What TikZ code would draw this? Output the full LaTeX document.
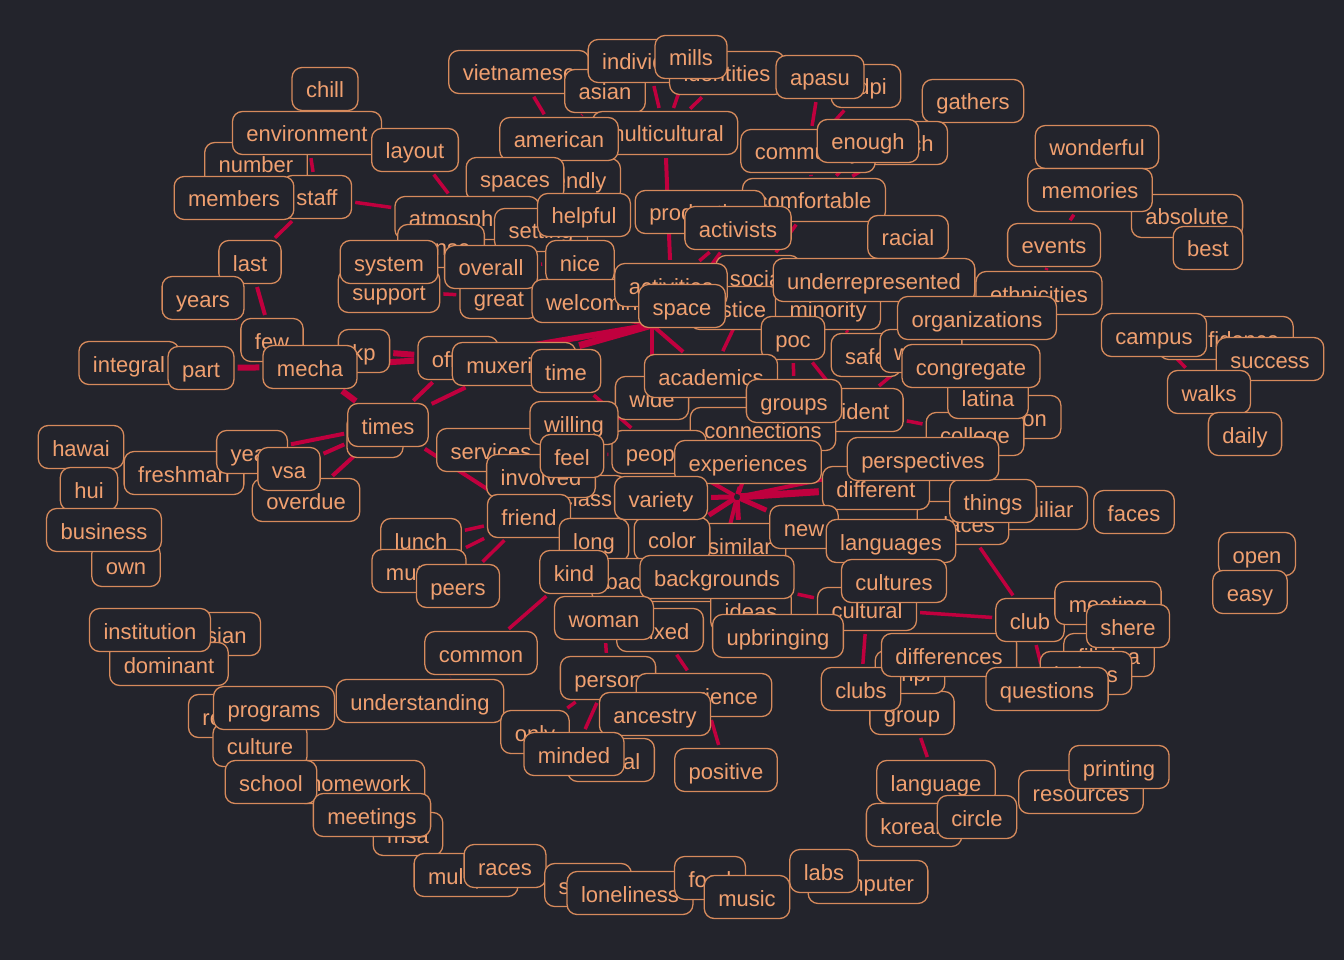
\documentclass[tikz,border=0pt]{standalone}
\usepackage{fontspec}
\setmainfont{Liberation Sans}
\pgfdeclarelayer{bgl}
\pgfdeclarelayer{edgel}
\pgfsetlayers{bgl,edgel,main}
\definecolor{bgc}{RGB}{35,36,44}
\definecolor{brd}{RGB}{214,138,92}
\definecolor{txt}{RGB}{240,160,112}
\definecolor{edg}{RGB}{192,0,62}
\tikzset{
 w/.style={draw=brd, fill=bgc, text=txt, rounded corners=10pt, line width=1.3pt,
   font=\fontsize{22}{26}\selectfont, inner xsep=14pt, inner ysep=0pt,
   minimum height=43pt, text height=20pt, text depth=2pt},
 lk/.style={draw=edg, line width=#1, shorten <=3pt, shorten >=3pt},
 lk/.default=3.5pt
}
\begin{document}
\begin{tikzpicture}[x=1pt,y=-1pt]
\begin{pgfonlayer}{bgl}
\fill[bgc] (0,0) rectangle (1344,960);
\end{pgfonlayer}
\useasboundingbox (0,0) rectangle (1344,960);
% ---- nodes, bottom to top ----
\node[w] (number) at (256,164) {number};
\node[w] (environment) at (307,133) {environment};
\node[w] (chill) at (325,89) {chill};
\node[w] (staff) at (317,197) {staff};
\node[w] (members) at (234,198) {members};
\node[w] (layout) at (415,150) {layout};
\node[w] (last) at (250,262) {last};
\node[w] (years) at (203,298) {years};
\node[w] (few) at (272,340) {few};
\node[w] (integral) at (129,363) {integral};
\node[w] (part) at (201,368) {part};
\node[w] (kp) at (364,351) {kp};
\node[w] (mecha) at (310,367) {mecha};
\node[w] (office) at (458,358) {office};
\node[w] (muxerista) at (514,364) {muxerista};
\node[w] (time) at (566,371) {time};
\node[w] (we) at (375,436) {we};
\node[w] (times) at (388,425) {times};
\node[w] (hawai) at (81,447) {hawai};
\node[w] (hui) at (89,489) {hui};
\node[w] (freshman) at (184,473) {freshman};
\node[w] (year) at (252,452) {year};
\node[w] (overdue) at (306,500) {overdue};
\node[w] (vsa) at (289,469) {vsa};
\node[w] (own) at (126,565) {own};
\node[w] (business) at (104,530) {business};
\node[w] (caucasian) at (197,634) {caucasian};
\node[w] (dominant) at (169,664) {dominant};
\node[w] (institution) at (150,630) {institution};
\node[w] (relate) at (230,716) {relate};
\node[w] (culture) at (260,745) {culture};
\node[w] (programs) at (274,708) {programs};
\node[w] (homework) at (360,782) {homework};
\node[w] (school) at (271,782) {school};
\node[w] (msa) at (408,834) {msa};
\node[w] (meetings) at (372,815) {meetings};
\node[w] (multiple) at (466,875) {multiple};
\node[w] (races) at (505,866) {races};
\node[w] (stress) at (588,885) {stress};
\node[w] (loneliness) at (630,893) {loneliness};
\node[w] (food) at (710,878) {food};
\node[w] (music) at (747,897) {music};
\node[w] (computer) at (868,882) {computer};
\node[w] (labs) at (824,871) {labs};
\node[w] (language) at (936,782) {language};
\node[w] (korean) at (914,825) {korean};
\node[w] (circle) at (977,817) {circle};
\node[w] (resources) at (1081,792) {resources};
\node[w] (printing) at (1119,767) {printing};
\node[w] (group) at (912,713) {group};
\node[w] (nhpi) at (910,672) {nhpi};
\node[w] (clubs) at (861,689) {clubs};
\node[w] (differences) at (949,655) {differences};
\node[w] (filipina) at (1109,655) {filipina};
\node[w] (latinas) at (1086,673) {latinas};
\node[w] (questions) at (1047,689) {questions};
\node[w] (club) at (1030,620) {club};
\node[w] (meeting) at (1108,603) {meeting};
\node[w] (shere) at (1128,626) {shere};
\node[w] (faces) at (1134,512) {faces};
\node[w] (familiar) at (1038,508) {familiar};
\node[w] (places) at (963,523) {places};
\node[w] (things) at (993,501) {things};
\node[w] (open) at (1257,554) {open};
\node[w] (easy) at (1250,592) {easy};
\node[w] (confidence) at (1226,338) {confidence};
\node[w] (success) at (1270,359) {success};
\node[w] (campus) at (1154,335) {campus};
\node[w] (walks) at (1209,392) {walks};
\node[w] (daily) at (1245,434) {daily};
\node[w] (wonderful) at (1097,147) {wonderful};
\node[w] (absolute) at (1187,216) {absolute};
\node[w] (best) at (1208,248) {best};
\node[w] (memories) at (1090,190) {memories};
\node[w] (events) at (1054,245) {events};
\node[w] (ethnicities) at (1039,293) {ethnicities};
\node[w] (gathers) at (973,101) {gathers};
\node[w] (vietnamese) at (519,72) {vietnamese};
\node[w] (asian) at (605,91) {asian};
\node[w] (individual) at (648,61) {individual};
\node[w] (identities) at (727,73) {identities};
\node[w] (mills) at (691,57) {mills};
\node[w] (adpi) at (866,86) {adpi};
\node[w] (apasu) at (820,77) {apasu};
\node[w] (reach) at (906,143) {reach};
\node[w] (community) at (808,151) {community};
\node[w] (enough) at (868,141) {enough};
\node[w] (friendly) at (571,180) {friendly};
\node[w] (multicultural) at (665,133) {multicultural};
\node[w] (american) at (559,139) {american};
\node[w] (spaces) at (515,179) {spaces};
\node[w] (comfortable) at (814,200) {comfortable};
\node[w] (productive) at (700,212) {productive};
\node[w] (activists) at (738,228) {activists};
\node[w] (racial) at (908,237) {racial};
\node[w] (atmosphere) at (467,218) {atmosphere};
\node[w] (setting) at (541,230) {setting};
\node[w] (helpful) at (584,215) {helpful};
\node[w] (place) at (441,246) {sense};
\node[w] (support) at (389,291) {support};
\node[w] (system) at (389,262) {system};
\node[w] (great) at (499,297) {great};
\node[w] (overall) at (491,267) {overall};
\node[w] (nice) at (580,262) {nice};
\node[w] (social) at (758,277) {social};
\node[w] (justice) at (735,308) {justice};
\node[w] (minority) at (828,308) {minority};
\node[w] (underrepresented) at (874,280) {underrepresented};
\node[w] (safe) at (866,355) {safe};
\node[w] (warm) at (921,351) {warm};
\node[w] (organizations) at (977,318) {organizations};
\node[w] (welcoming) at (598,301) {welcoming};
\node[w] (activities) at (671,285) {activities};
\node[w] (space) at (682,306) {space};
\node[w] (poc) at (793,338) {poc};
\node[w] (location) at (1009,417) {location};
\node[w] (college) at (975,434) {college};
\node[w] (latina) at (988,397) {latina};
\node[w] (congregate) at (971,366) {congregate};
\node[w] (wide) at (652,398) {wide};
\node[w] (academics) at (711,376) {academics};
\node[w] (resident) at (850,410) {resident};
\node[w] (connections) at (763,429) {connections};
\node[w] (groups) at (794,401) {groups};
\node[w] (people) at (659,452) {people};
\node[w] (experiences) at (748,462) {experiences};
\node[w] (services) at (491,450) {services};
\node[w] (willing) at (574,423) {willing};
\node[w] (class) at (587,497) {class};
\node[w] (involved) at (541,476) {involved};
\node[w] (feel) at (572,456) {feel};
\node[w] (friend) at (529,516) {friend};
\node[w] (lunch) at (421,540) {lunch};
\node[w] (mutual) at (419,571) {mutual};
\node[w] (peers) at (458,586) {peers};
\node[w] (long) at (594,540) {long};
\node[w] (similar) at (740,545) {similar};
\node[w] (color) at (672,539) {color};
\node[w] (variety) at (661,498) {variety};
\node[w] (background) at (663,580) {background};
\node[w] (kind) at (574,572) {kind};
\node[w] (ideas) at (751,610) {ideas};
\node[w] (backgrounds) at (717,577) {backgrounds};
\node[w] (mixed) at (660,630) {mixed};
\node[w] (woman) at (604,618) {woman};
\node[w] (cultural) at (867,609) {cultural};
\node[w] (upbringing) at (778,636) {upbringing};
\node[w] (different) at (876,488) {different};
\node[w] (perspectives) at (923,459) {perspectives};
\node[w] (new) at (804,527) {new};
\node[w] (languages) at (891,541) {languages};
\node[w] (cultures) at (894,581) {cultures};
\node[w] (common) at (481,653) {common};
\node[w] (understanding) at (420,701) {understanding};
\node[w] (person) at (608,678) {person};
\node[w] (experience) at (704,695) {experience};
\node[w] (ancestry) at (655,714) {ancestry};
\node[w] (only) at (535,732) {only};
\node[w] (liberal) at (611,760) {liberal};
\node[w] (minded) at (574,754) {minded};
\node[w] (positive) at (726,770) {positive};
\coordinate (H) at (737,497);
\coordinate (H2) at (652,325);
% ---- connectors ----
\begin{pgfonlayer}{edgel}
\draw[lk] (environment) -- (staff);
\draw[lk] (staff) -- (last);
\draw[lk=4pt] (last) -- (few);
\draw[lk] (years) -- (few);
\draw[lk] (staff) -- (atmosphere);
\draw[lk] (layout) -- (atmosphere);
\draw[lk=6pt] (part) -- (mecha);
\draw[lk=6pt] (kp) -- (office);
\draw[lk=6pt] (mecha) -- (office);
\draw[lk=6pt] (mecha) -- (times);
\draw[lk=4pt] (year) -- (times);
\draw[lk=4pt] (vsa) -- (times);
\draw[lk=4pt] (overdue) -- (times);
\draw[lk=4pt] (times) -- (office);
\draw[lk=4pt] (times) -- (muxerista);
\draw[lk=4pt] (times) -- (friend);
\draw[lk=6pt] (office) -- (H2);
\draw[lk=7pt] (muxerista) -- (H2);
\draw[lk=4pt] (great) -- (H2);
\draw[lk=4pt] (H2) -- (wide);
\draw[lk=4pt] (H2) -- (academics);
\draw[lk] (social) -- (academics);
\draw[lk] (overall) -- (nice);
\draw[lk] (support) -- (great);
\draw[lk] (vietnamese) -- (american);
\draw[lk] (asian) -- (american);
\draw[lk] (individual) -- (multicultural);
\draw[lk] (mills) -- (multicultural);
\draw[lk] (identities) -- (multicultural);
\draw[lk] (apasu) -- (community);
\draw[lk] (adpi) -- (community);
\draw[lk] (community) -- (comfortable);
\draw[lk] (enough) -- (comfortable);
\draw[lk] (reach) -- (comfortable);
\draw[lk] (gathers) -- (reach);
\draw[lk=4pt] (multicultural) -- (activities);
\draw[lk] (activists) -- (activities);
\draw[lk] (comfortable) -- (social);
\draw[lk] (activists) -- (space);
\draw[lk] (memories) -- (events);
\draw[lk] (events) -- (ethnicities);
\draw[lk] (campus) -- (walks);
\draw[lk] (places) -- (club);
\draw[lk] (cultural) -- (club);
\draw[lk] (club) -- (questions);
\draw[lk] (group) -- (language);
\draw[lk] (cultural) -- (clubs);
\draw[lk] (experience) -- (positive);
\draw[lk] (mixed) -- (experience);
\draw[lk] (person) -- (only);
\draw[lk] (person) -- (minded);
\draw[lk] (woman) -- (person);
\draw[lk] (understanding) -- (common);
\draw[lk] (common) -- (kind);
\draw[lk] (friend) -- (peers);
\draw[lk] (lunch) -- (friend);
\draw[lk] (mutual) -- (friend);
\draw[lk] (feel) -- (people);
\draw[lk] (time) -- (people);
\draw[lk=7pt] (H) -- (different);
\draw[lk=5pt] (H) -- (new);
\draw[lk=5pt] (H) -- (color);
\draw[lk=5pt] (H) -- (similar);
\draw[lk=5pt] (H) -- (variety);
\draw[lk=5pt] (H) -- (experiences);
\draw[lk=4pt] (H) -- (connections);
\draw[lk=4pt] (H) -- (people);
\draw[lk=4pt] (H) -- (backgrounds);
\draw[lk=4pt] (H) -- (perspectives);
\draw[lk] (new) -- (cultures);
\draw[lk] (backgrounds) -- (cultural);
\draw[lk] (poc) -- (groups);
\draw[lk] (poc) -- (resident);
\draw[lk] (warm) -- (resident);
\draw[lk] (resident) -- (college);
\draw[lk=4pt] (perspectives) -- (things);
\draw[lk] (minority) -- (safe);
\end{pgfonlayer}
\end{tikzpicture}
\end{document}
